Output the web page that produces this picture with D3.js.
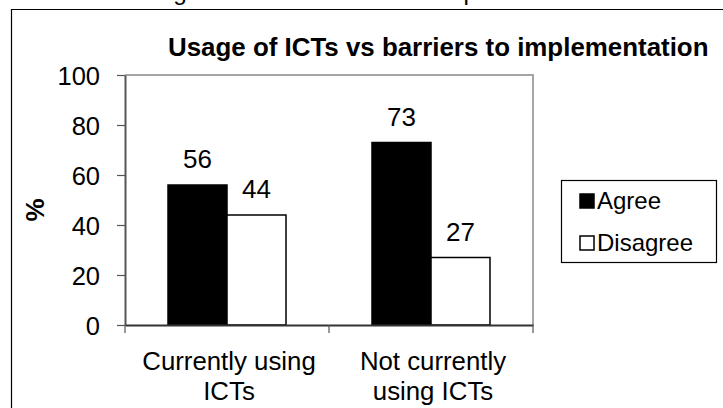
<!DOCTYPE html>
<html><head><meta charset="utf-8">
<script src="https://cdn.jsdelivr.net/npm/d3@7"></script>
<style>body{margin:0;background:#fff}svg{display:block}text{font-family:"Liberation Sans",Arial,sans-serif;fill:#000}</style>
</head><body>
<script>
const categories = [["Currently using","ICTs"],["Not currently","using ICTs"]];
const seriesNames = ["Agree","Disagree"];
const agree = [56, 73];
const disagree = [44, 27];
const yTicks = [0,20,40,60,80,100];
const title = "Usage of ICTs vs barriers to implementation";

const W=723,H=408;
const svg=d3.select("body").append("svg").attr("width",W).attr("height",H);

// cut-off caption above the frame (only descenders visible, as in the reference)
svg.append("text").attr("x",130).attr("y",-0.5).attr("font-size",24.4).text(title);

// frame
svg.append("path").attr("d",`M11.5,${H+5} V9.5 H${W+5}`).attr("fill","none").attr("stroke","#000").attr("stroke-width",1.2);

const m={l:125,r:533,t:75,b:325};
const x0=d3.scaleBand().domain(d3.range(categories.length)).range([m.l,m.r]).paddingInner(0).paddingOuter(0);
const x1=d3.scaleBand().domain(seriesNames).range([43,x0.bandwidth()-43]);
const y=d3.scaleLinear().domain([0,100]).range([m.b,m.t]);

// plot area border (top/right grey)
svg.append("path").attr("d",`M${m.l},${m.t} H${m.r} V${m.b}`).attr("fill","none").attr("stroke","#a6a6a6").attr("stroke-width",2);

const data=categories.map((c,i)=>({i,vals:[{s:"Agree",v:agree[i]},{s:"Disagree",v:disagree[i]}]}));
const g=svg.append("g");
const grp=g.selectAll("g").data(data).join("g").attr("transform",d=>`translate(${x0(d.i)},0)`);
grp.selectAll("rect").data(d=>d.vals).join("rect")
  .attr("x",d=>x1(d.s)).attr("width",x1.bandwidth())
  .attr("y",d=>y(d.v)).attr("height",d=>y(0)-y(d.v))
  .attr("fill",d=>d.s==="Agree"?"#000":"#fff").attr("stroke","#000").attr("stroke-width",1.5);
grp.selectAll("text").data(d=>d.vals).join("text")
  .attr("x",d=>x1(d.s)+x1.bandwidth()/2).attr("y",d=>y(d.v)-17)
  .attr("text-anchor","middle").attr("font-size",26).text(d=>d.v);

// y axis
const ya=svg.append("g").attr("transform",`translate(${m.l},0)`).call(d3.axisLeft(y).tickValues(yTicks).tickSize(8).tickPadding(17).tickSizeOuter(0));
ya.select(".domain").attr("stroke","#555").attr("stroke-width",2);
ya.selectAll(".tick line").attr("stroke","#555").attr("stroke-width",1.2);
ya.selectAll(".tick text").attr("font-size",25.5).attr("font-family","Liberation Sans, Arial, sans-serif").attr("dy","0.36em");

// x axis
const xa=svg.append("g").attr("transform",`translate(0,${m.b})`).call(d3.axisBottom(x0).tickValues([]).tickSizeOuter(0));
xa.select(".domain").attr("stroke","#333").attr("stroke-width",2);
const xt=[m.l, ...categories.map((c,i)=>x0(i)+x0.bandwidth())];
svg.append("g").selectAll("line").data(xt).join("line").attr("x1",d=>d).attr("x2",d=>d).attr("y1",m.b).attr("y2",m.b+8).attr("stroke","#555").attr("stroke-width",1.2);
const cl=svg.append("g").selectAll("text").data(categories).join("text")
  .attr("x",(d,i)=>x0(i)+x0.bandwidth()/2+2).attr("y",370).attr("text-anchor","middle").attr("font-size",25.8);
cl.selectAll("tspan").data(d=>d).join("tspan").attr("x",function(){return this.parentNode.getAttribute("x")}).attr("dy",(d,i)=>i?30:0).text(d=>d);

// y label
svg.append("text").attr("transform","translate(44,210) rotate(-90)").attr("text-anchor","middle").attr("font-weight","bold").attr("font-size",26).text("%");

// title
svg.append("text").attr("x",168).attr("y",56).attr("font-weight","bold").attr("font-size",25.9).text(title);

// legend
svg.append("rect").attr("x",561.5).attr("y",180.5).attr("width",155).attr("height",82).attr("fill","#fff").attr("stroke","#000").attr("stroke-width",1.2);
const lg=svg.append("g").selectAll("g").data(seriesNames).join("g").attr("transform",(d,i)=>`translate(580,${194+i*42})`);
lg.append("rect").attr("width",14).attr("height",14).attr("fill",(d,i)=>i?"#fff":"#000").attr("stroke","#000").attr("stroke-width",1.5);
lg.append("text").attr("x",17).attr("y",15).attr("font-size",24).text(d=>d);
</script>
</body></html>
